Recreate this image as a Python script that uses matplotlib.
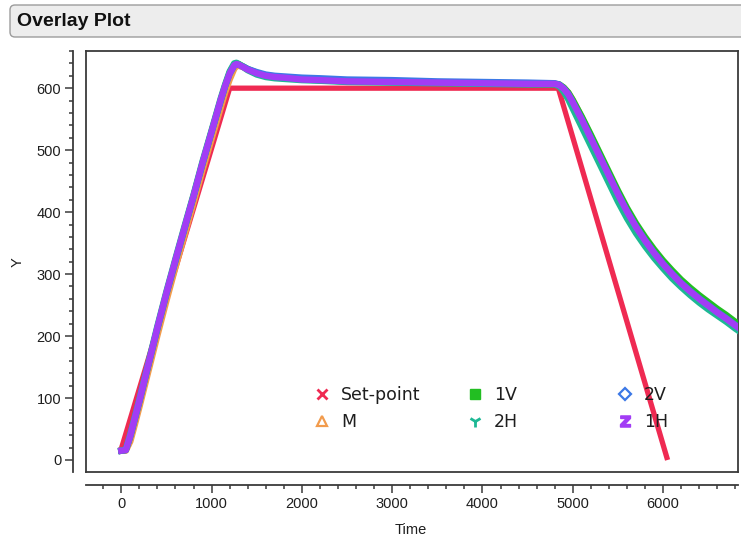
import matplotlib
matplotlib.use("Agg")
import matplotlib.pyplot as plt
from matplotlib.patches import FancyBboxPatch
from matplotlib.lines import Line2D
from matplotlib.ticker import MultipleLocator
from matplotlib.transforms import IdentityTransform

# ---- data -------------------------------------------------------------
setpoint_time = [0, 1200, 4840, 6050]
setpoint_y = [18, 600, 600, 0]

time = [0, 50, 100, 150, 200, 300, 400, 500, 600, 700, 800, 900, 1000, 1100,
        1150, 1200, 1250, 1275, 1300, 1350, 1400, 1500, 1600, 1700, 1800,
        2000, 2200, 2500, 3000, 3500, 4000, 4500, 4800, 4850, 4900, 4950, 5000,
        5100, 5200, 5300, 5400, 5500, 5600, 5700, 5800, 5900, 6000, 6100, 6200,
        6300, 6400, 6500, 6600, 6700, 6800, 6830]

m_y = [15, 15, 30, 57, 85, 143, 201, 257, 311, 363, 415, 468, 518, 568,
       593, 614, 631, 636, 636, 634, 630, 624, 621, 619, 617,
       615, 613, 612, 610, 609, 608, 608, 607, 606, 601, 593, 581,
       553, 523, 493, 462, 432, 404, 379, 357, 337, 319, 302, 287,
       274, 262, 251, 240, 230, 219, 216]

v1_y = [15, 16, 39, 67, 95, 154, 213, 269, 322, 374, 426, 479, 530, 580,
        604, 625, 638, 640, 639, 635, 631, 625, 620, 618, 617,
        614, 613, 611, 610, 609, 608, 607, 607, 606, 601, 593, 581,
        554, 525, 495, 465, 435, 407, 382, 360, 340, 322, 306, 291,
        278, 266, 255, 244, 234, 223, 220]

v2_y = [15, 16, 38, 66, 94, 153, 212, 268, 321, 373, 425, 478, 529, 579,
        603, 623, 636, 639, 638, 635, 631, 626, 622, 620, 619,
        617, 616, 614, 613, 611, 610, 609, 608, 606, 600, 591, 578,
        550, 520, 490, 460, 430, 402, 377, 355, 335, 317, 301, 286,
        273, 261, 250, 239, 229, 218, 215]

h2_y = [15, 17, 42, 70, 98, 157, 216, 272, 325, 377, 428, 482, 532, 583,
        606, 627, 640, 641, 639, 634, 629, 622, 618, 616, 615,
        613, 612, 610, 609, 608, 607, 606, 606, 603, 594, 582, 567,
        537, 507, 477, 447, 417, 390, 366, 345, 326, 309, 293, 279,
        266, 254, 243, 233, 223, 212, 209]

h1_y = [15, 16, 40, 68, 96, 155, 214, 270, 323, 375, 426, 480, 530, 581,
        604, 624, 637, 639, 638, 634, 630, 624, 620, 618, 617,
        614, 613, 611, 610, 609, 608, 607, 607, 605, 599, 590, 577,
        549, 519, 489, 459, 429, 401, 376, 354, 334, 316, 300, 285,
        272, 260, 249, 238, 228, 217, 214]

x_ticks = [0, 1000, 2000, 3000, 4000, 5000, 6000]
y_ticks = [0, 100, 200, 300, 400, 500, 600]

# ---- styling ----------------------------------------------------------
C_SET = "#EF2A52"
C_M = "#F29B4C"
C_1V = "#22BE22"
C_2V = "#3C78E6"
C_2H = "#1DB894"
C_1H = "#A23CF5"
FRAME = "#3A3A3A"
TXT = "#1E1E1E"
TICK_FONT = ["Liberation Sans", "DejaVu Sans"]

W, H = 741, 542
fig = plt.figure(figsize=(W / 100, H / 100), dpi=100)

# title bar
bar = FancyBboxPatch((10, H - 37), 745, 32,
                     boxstyle="round,pad=0,rounding_size=5",
                     transform=IdentityTransform(),
                     facecolor="#EDEDED", edgecolor="#9C9C9C", linewidth=1.0)
fig.add_artist(bar)
fig.text(17 / W, 1 - 21 / H, "Overlay Plot", fontsize=14, fontweight="bold",
         family=TICK_FONT, color="#111111", va="center", ha="left")

# plot frame
left, right, top, bottom = 86, 738, 51, 472
rect = [left / W, 1 - bottom / H, (right - left) / W, (bottom - top) / H]
ax = fig.add_axes(rect)
for s in ax.spines.values():
    s.set_color(FRAME)
    s.set_linewidth(1.3)
ax.tick_params(which="both", left=False, bottom=False,
               labelleft=False, labelbottom=False)
ax.set_xlim(-391, 6830)
ax.set_ylim(-19.4, 660)

lw_meas = 4.6
ax.plot(setpoint_time, setpoint_y, color=C_SET, lw=3.8,
        solid_capstyle="butt", solid_joinstyle="miter", zorder=2)
ax.plot(time, m_y, color=C_M, lw=lw_meas, solid_joinstyle="round", zorder=3)
ax.plot(time, v1_y, color=C_1V, lw=lw_meas, solid_joinstyle="round", zorder=3)
ax.plot(time, v2_y, color=C_2V, lw=lw_meas, solid_joinstyle="round", zorder=3)
ax.plot(time, h2_y, color=C_2H, lw=lw_meas, solid_joinstyle="round", zorder=3)
ax.plot(time, h1_y, color=C_1H, lw=lw_meas, solid_joinstyle="round", zorder=4)

# detached axes with ticks
axa = fig.add_axes(rect, sharex=ax, sharey=ax)
axa.patch.set_visible(False)
for side in ("top", "right"):
    axa.spines[side].set_visible(False)
for side in ("left", "bottom"):
    axa.spines[side].set_position(("outward", 9.5))
    axa.spines[side].set_color(FRAME)
    axa.spines[side].set_linewidth(1.3)
axa.xaxis.set_major_locator(plt.FixedLocator(x_ticks))
axa.yaxis.set_major_locator(plt.FixedLocator(y_ticks))
axa.xaxis.set_minor_locator(MultipleLocator(200))
axa.yaxis.set_minor_locator(MultipleLocator(20))
axa.tick_params(which="major", direction="out", length=5.8, width=1.1,
                color=FRAME, labelsize=10.5, labelcolor=TXT, pad=2.5)
axa.tick_params(which="minor", direction="out", length=3.0, width=1.1,
                color=FRAME)
for lab in axa.get_xticklabels() + axa.get_yticklabels():
    lab.set_family(TICK_FONT)

fig.text(18 / W, 1 - 262 / H, "Y", rotation=90, fontsize=10.5,
         family=TICK_FONT, color=TXT, ha="center", va="center")
fig.text(411 / W, 1 - 530 / H, "Time", fontsize=10.5,
         family=TICK_FONT, color=TXT, ha="center", va="center")

# legend, three columns
handles = [
    Line2D([], [], ls="none", marker="x", ms=7, mew=2, color=C_SET),
    Line2D([], [], ls="none", marker="^", ms=7, mfc="none", mec=C_M, mew=1.6),
    Line2D([], [], ls="none", marker="s", ms=6.5, color=C_1V),
    Line2D([], [], ls="none", marker="1", ms=9, mew=2, color=C_2H),
    Line2D([], [], ls="none", marker="D", ms=6, mfc="none", mec=C_2V, mew=1.6),
    Line2D([], [], ls="none", marker=r"$\mathbf{z}$", ms=8, color=C_1H),
]
labels = ["Set-point", "M", "1V", "2H", "2V", "1H"]
col_x = [313, 466, 616]
for i, x0 in enumerate(col_x):
    fig.legend(handles[2 * i:2 * i + 2], labels[2 * i:2 * i + 2],
               loc="upper left", bbox_to_anchor=(x0 / W, 1 - 386 / H),
               frameon=False, borderpad=0, borderaxespad=0,
               handlelength=1.0, handletextpad=0.6, labelspacing=0.54,
               prop={"family": "DejaVu Sans", "size": 12.5},
               labelcolor=TXT)

fig.savefig("out.png", dpi=100)
